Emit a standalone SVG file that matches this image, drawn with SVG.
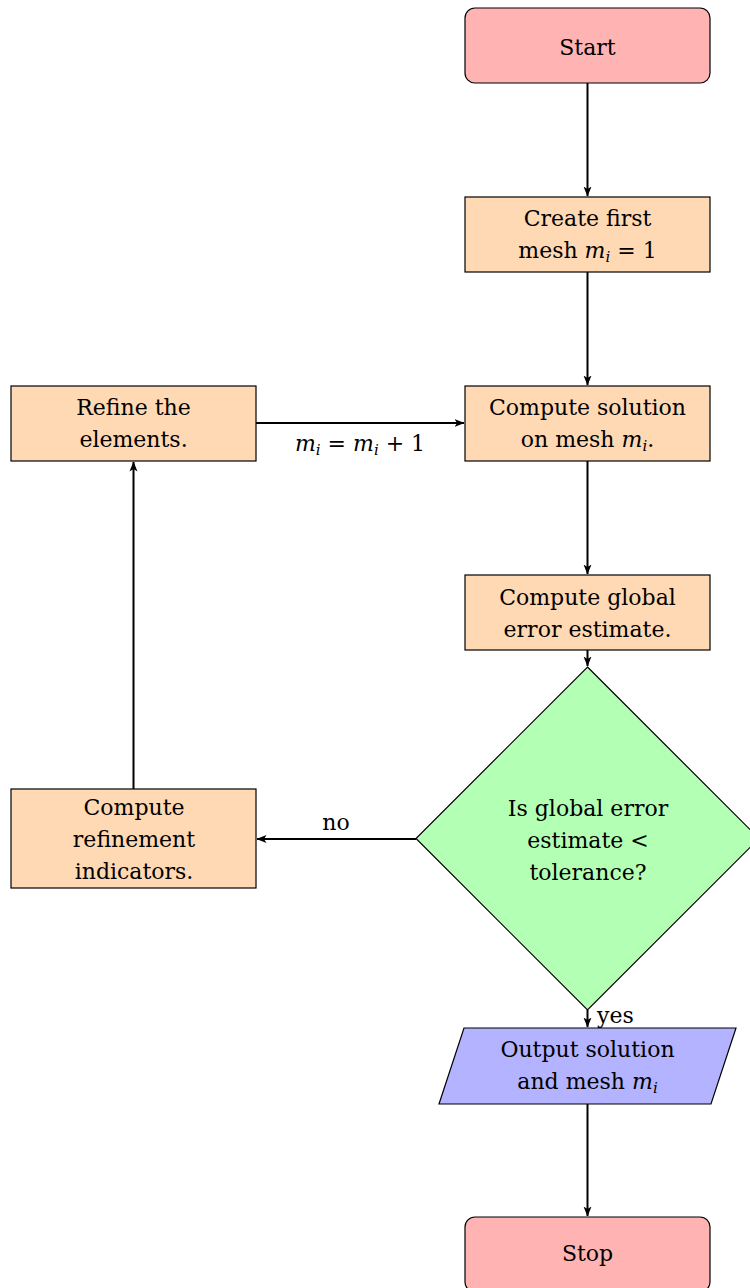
<svg xmlns="http://www.w3.org/2000/svg" width="750" height="1288" viewBox="0 0 750 1288">
  <style>
    .box { stroke: #000; stroke-width: 1.2; }
    .term { fill: #ffb3b3; }
    .proc { fill: #ffd9b3; }
    .dec { fill: #b3ffb3; }
    .io { fill: #b3b3ff; }
    text { font-size: 22px; fill: #000; text-anchor: middle; }
    .m { font-style: italic; }
    .sub { font-style: italic; font-size: 15px; }
    .edge { stroke: #000; stroke-width: 2; fill: none; marker-end: url(#arr); }
  </style>
  <defs>
    <marker id="arr" viewBox="0 0 10 10" refX="9.5" refY="5" markerWidth="10" markerHeight="10" markerUnits="userSpaceOnUse" orient="auto">
      <path d="M0,1 L10,5 L0,9 L2.5,5 z" fill="#000"/>
    </marker>
  </defs>

  <g font-family="DejaVu Serif">
  <g id="connectors">
    <line class="edge" x1="587.5" y1="83" x2="587.5" y2="196"/>
    <line class="edge" x1="587.5" y1="272" x2="587.5" y2="385"/>
    <line class="edge" x1="587.5" y1="461" x2="587.5" y2="574"/>
    <line class="edge" x1="587.5" y1="650" x2="587.5" y2="666"/>
    <line class="edge" x1="416" y1="839" x2="257" y2="839"/>
    <line class="edge" x1="133.5" y1="789" x2="133.5" y2="462"/>
    <line class="edge" x1="256" y1="423" x2="464" y2="423"/>
    <line class="edge" x1="587.5" y1="1010" x2="587.5" y2="1027"/>
    <line class="edge" x1="587.5" y1="1104" x2="587.5" y2="1216"/>
    <text x="336" y="830">no</text>
    <text x="597" y="1023" style="text-anchor:start">yes</text>
    <text x="360" y="451"><tspan class="m">m</tspan><tspan class="sub" dy="4">i</tspan><tspan dy="-4"> = </tspan><tspan class="m">m</tspan><tspan class="sub" dy="4">i</tspan><tspan dy="-4"> + 1</tspan></text>
  </g>

  <g id="start">
    <rect class="box term" x="465" y="8" width="245" height="75" rx="10"/>
    <text x="587.5" y="55">Start</text>
  </g>

  <g id="create-mesh">
    <rect class="box proc" x="465" y="197" width="245" height="75"/>
    <text x="587.5" y="226">Create first</text>
    <text x="587.5" y="258">mesh <tspan class="m">m</tspan><tspan class="sub" dy="4">i</tspan><tspan dy="-4"> = 1</tspan></text>
  </g>

  <g id="compute-solution">
    <rect class="box proc" x="465" y="386" width="245" height="75"/>
    <text x="587.5" y="415">Compute solution</text>
    <text x="587.5" y="447">on mesh <tspan class="m">m</tspan><tspan class="sub" dy="4">i</tspan><tspan dy="-4">.</tspan></text>
  </g>

  <g id="refine">
    <rect class="box proc" x="11" y="386" width="245" height="75"/>
    <text x="133.5" y="415">Refine the</text>
    <text x="133.5" y="447">elements.</text>
  </g>

  <g id="global-error">
    <rect class="box proc" x="465" y="575" width="245" height="75"/>
    <text x="587.5" y="605">Compute global</text>
    <text x="587.5" y="637">error estimate.</text>
  </g>

  <g id="tolerance-check">
    <polygon class="box dec" points="587.5,667 759,838.5 587.5,1010 416,838.5"/>
    <text x="588" y="816">Is global error</text>
    <text x="588" y="848">estimate &lt;</text>
    <text x="588" y="880">tolerance?</text>
  </g>

  <g id="indicators">
    <rect class="box proc" x="11" y="789" width="245" height="99"/>
    <text x="134" y="815">Compute</text>
    <text x="134" y="847">refinement</text>
    <text x="134" y="879">indicators.</text>
  </g>

  <g id="output">
    <polygon class="box io" points="464,1028 736,1028 711,1104 439,1104"/>
    <text x="587.5" y="1057">Output solution</text>
    <text x="587.5" y="1089">and mesh <tspan class="m">m</tspan><tspan class="sub" dy="4">i</tspan></text>
  </g>

  <g id="stop">
    <rect class="box term" x="465" y="1217" width="245" height="75" rx="10"/>
    <text x="587.5" y="1261">Stop</text>
  </g>
  </g>
</svg>
